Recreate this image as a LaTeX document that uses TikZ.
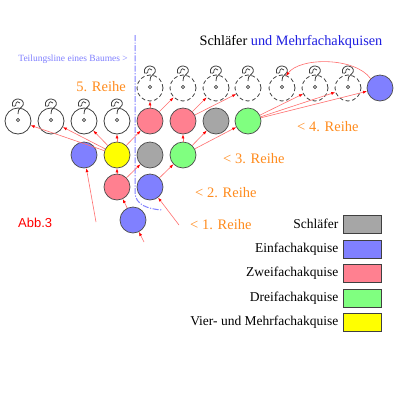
\documentclass[tikz,border=0pt]{standalone}
\usepackage{fontspec}
\setmainfont{Liberation Serif}
\newfontfamily\abbfont{Liberation Sans}
\usetikzlibrary{arrows.meta,positioning,calc}
\definecolor{grau}{RGB}{166,166,166}
\definecolor{blau}{RGB}{128,128,255}
\definecolor{rosa}{RGB}{255,128,144}
\definecolor{gruen}{RGB}{128,255,128}
\definecolor{gelb}{RGB}{255,255,0}
\definecolor{reihenorange}{RGB}{255,140,30}
\definecolor{titelblau}{RGB}{30,30,225}
\definecolor{linienrot}{RGB}{255,110,110}
\tikzset{
	kreis/.style={circle, draw=black!70, line width=0.7pt, minimum size=26pt, inner sep=0pt},
	weiss/.style={kreis, draw=black!75, line width=0.8pt},
	offen/.style={weiss, dash pattern=on 4pt off 2.5pt},
	pfeil/.style={draw=linienrot, line width=0.6pt, -{Latex[length=4pt, width=3pt, color=red]}},
	reihe/.style={text=reihenorange, font=\fontsize{14.5}{16}\selectfont, inner sep=0pt},
	legbox/.style={draw=black!75, line width=0.8pt, minimum width=38pt, minimum height=18pt, inner sep=0pt},
	legtext/.style={font=\fontsize{13.5}{15}\selectfont, inner sep=0pt},
	frage/.pic={
		\draw[black!75, line width=0.8pt] (-5.5,-15) .. controls (-7,-20) and (-2,-22.5) .. (0.5,-22)
			.. controls (6,-21.5) and (7,-16) .. (3,-13.5) .. controls (0.5,-12) and (0,-10) .. (0,-7);
		\draw[black!75, line width=0.7pt] (-5.5,-15) .. controls (-2.5,-14) and (-1,-16.5) .. (-2,-18)
			.. controls (-2.5,-19.5) and (1,-20) .. (2,-18);
		\draw[black!75, line width=0.7pt] (0,-1) circle (1.6pt);
	}
}

\begin{document}
\begin{tikzpicture}[x=1pt, y=-1pt]
			%%%%% START %%%%%
			\path[fill=white, use as bounding box] (0,0) rectangle (400,400);
			
			% Teilungslinie
			\draw[blau, line width=1pt, dash pattern=on 6pt off 1.5pt on 1.2pt off 1.5pt] (135,35) -- (135,192) .. controls (135,205) and (148,209) .. (162,210);
			\node[text=blau, font=\fontsize{9.5}{11}\selectfont, anchor=east, inner sep=0pt] (teilung) at (128,59) {Teilungsline eines Baumes >};
			
			% Titel
			\node[font=\fontsize{14.3}{16}\selectfont, inner sep=0pt] (titel) at (291,42) {Schläfer \textcolor{titelblau}{und Mehrfachakquisen}};
			
			% offene Kreise mit Fragezeichen
			\foreach \n/\x in {w1/18, w2/51, w3/84, w4/117} {
				\node[weiss] (\n) at (\x,121) {};
				\pic at (\n) {frage};
			}
			\foreach \n/\x in {o1/150, o2/183, o3/216, o4/248, o5/282, o6/315, o7/348} {
				\node[offen] (\n) at (\x,88) {};
				\pic at (\n) {frage};
			}
			
			% Akquisen
			\node[kreis, fill=blau] (e5) at (380,88) {};
			\node[kreis, fill=rosa] (z4a) at (150,121) {};
			\node[kreis, fill=rosa] (z4b) at (183,121) {};
			\node[kreis, fill=grau] (s4) at (216,121) {};
			\node[kreis, fill=gruen] (d4) at (248,121) {};
			\node[kreis, fill=blau] (e3) at (84,155) {};
			\node[kreis, fill=gelb] (v3) at (117,155) {};
			\node[kreis, fill=grau] (s3) at (150,155) {};
			\node[kreis, fill=gruen] (d3) at (183,155) {};
			\node[kreis, fill=rosa] (z2) at (117,187) {};
			\node[kreis, fill=blau] (e2) at (150,187) {};
			\node[kreis, fill=blau] (e1) at (133,220) {};
			
			\coordinate (q1) at (144,242);
			\coordinate (q2) at (179,225);
			\coordinate (q3) at (96,222);
			\coordinate (o5spitze) at ($(o5)+(4,-12)$);
			
			% Pfeile
			\draw[pfeil] (q1) -- (e1);
			\draw[pfeil] (q2) -- (e2);
			\draw[pfeil] (q3) -- (e3);
			\draw[pfeil] (e1) -- (z2);
			\draw[pfeil] (z2) -- (v3);
			\draw[pfeil] (z2) -- (s3);
			\draw[pfeil] (e2) -- (d3);
			\foreach \z in {w1, w2, w3, w4, z4a} \draw[pfeil] (v3) -- (\z);
			\foreach \z in {z4b, s4, d4} \draw[pfeil] (d3) -- (\z);
			\draw[pfeil] (z4a) -- (o1);
			\draw[pfeil] (z4a) -- (o2);
			\draw[pfeil] (z4b) -- (o3);
			\draw[pfeil] (z4b) -- (o4);
			\foreach \z in {o6, o7, e5} \draw[pfeil] (d4) -- (\z);
			\draw[pfeil] (e5.135) .. controls (355,57) and (300,57) .. (o5spitze);
			
			% Reihen
			\node[reihe, anchor=east] (r5) at (126,87) {5. Reihe};
			\node[reihe, anchor=west] (r4) at (297,127) {< 4. Reihe};
			\node[reihe, anchor=west] (r3) at (223,159) {< 3. Reihe};
			\node[reihe, anchor=west] (r2) at (195,193) {< 2. Reihe};
			\node[reihe, anchor=west] (r1) at (190,225) {< 1. Reihe};
			
			\node[text=red, font=\abbfont\fontsize{13}{15}\selectfont, anchor=west, inner sep=0pt] (abb) at (18,223) {Abb.3};
			
			% Legende
			\foreach \y/\f/\t in {224/grau/Schläfer, 249/blau/Einfachakquise, 273/rosa/Zweifachakquise, 298/gruen/Dreifachakquise, 322/gelb/Vier- und Mehrfachakquise} {
				\node[legbox, fill=\f] (l\f) at (362,\y) {};
				\node[legtext, left=4pt of l\f] (t\f) {\t};
			}
			%%%%% END %%%%%
\end{tikzpicture}
\end{document}
